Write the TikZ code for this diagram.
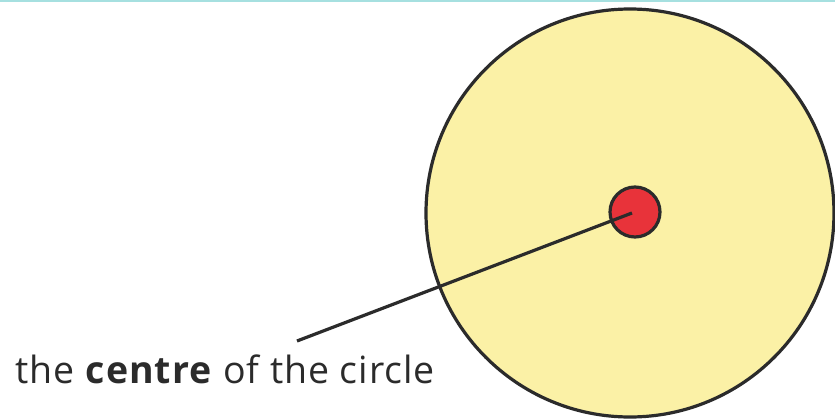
\documentclass[tikz,border=0pt]{standalone}
\usepackage{fontspec}
\setmainfont[LetterSpace=2.5]{Open Sans}
\definecolor{bigfill}{HTML}{FBF1A6}
\definecolor{dotred}{HTML}{E8333A}
\definecolor{ink}{HTML}{2B2B2B}
\definecolor{topline}{HTML}{A6E0E0}
\begin{document}
\begin{tikzpicture}[x=1pt,y=-1pt,
  outline/.style={draw=ink,line width=3.2pt},
  label/.style={anchor=base west,inner sep=0pt,text=ink,font=\fontsize{37.5}{40}\selectfont}]
\useasboundingbox (0,0) rectangle (835,420);
\clip (0,0) rectangle (835,420);
\fill[white] (0,0) rectangle (835,420);
\draw[topline,line width=2pt] (0,1) -- (835,1);
\node[outline,fill=bigfill,circle,minimum size=408pt,inner sep=0pt] (big) at (630,213) {};
\node[outline,fill=dotred,circle,minimum size=50pt,inner sep=0pt] (dot) at (635,212) {};
\coordinate (c) at (632,213);
\node[label] (txt) at (15,383) {the \textbf{centre} of the circle};
\coordinate (lend) at (297,341);
\draw[ink,line width=3.2pt] (c) -- (lend);
\end{tikzpicture}
\end{document}
